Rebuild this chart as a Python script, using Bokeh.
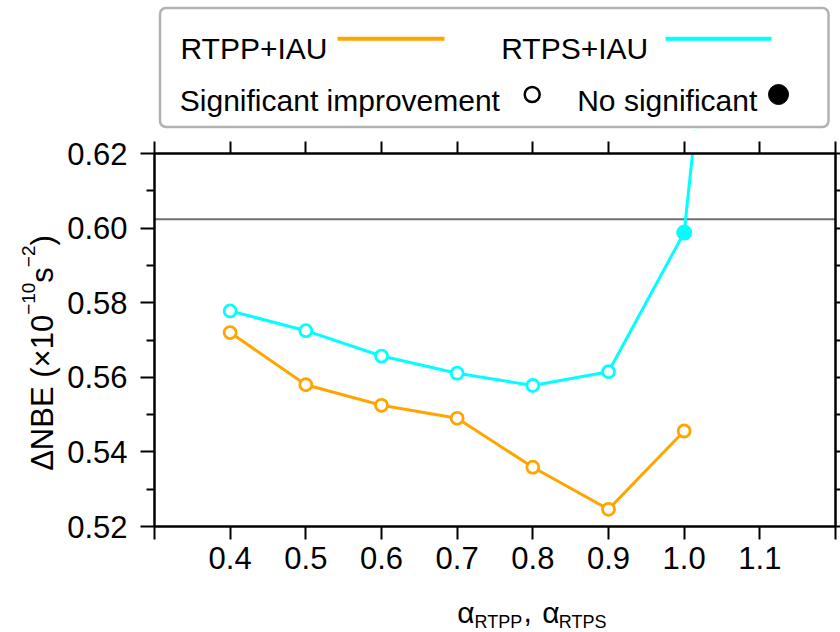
import math
from bokeh.plotting import figure
from bokeh.layouts import column
from bokeh.models import (Range1d, FixedTicker, LinearAxis, BoxAnnotation,
                          NumeralTickFormatter, CustomJSTickFormatter)
from bokeh.core.properties import value
from bokeh.embed import file_html
from bokeh.resources import INLINE

# ---------------- data ----------------
alpha_rtpp = [0.4, 0.5, 0.6, 0.7, 0.8, 0.9, 1.0]
rtpp_iau = [0.5720, 0.5580, 0.5525, 0.5490, 0.5359, 0.5246, 0.5456]
rtpp_significant = [True, True, True, True, True, True, True]

alpha_rtps = [0.4, 0.5, 0.6, 0.7, 0.8, 0.9, 1.0, 1.1]
rtps_iau = [0.5778, 0.5725, 0.5657, 0.5611, 0.5578, 0.5615, 0.5988, 0.7900]
rtps_significant = [True, True, True, True, True, True, False, False]

reference_value = 0.6024

x_lo, x_hi = 0.3, 1.2
y_lo, y_hi = 0.52, 0.62
x_ticks = [0.3, 0.4, 0.5, 0.6, 0.7, 0.8, 0.9, 1.0, 1.1, 1.2]
y_ticks = [0.52, 0.54, 0.56, 0.58, 0.60, 0.62]
y_minor_ticks = [0.53, 0.55, 0.57, 0.59, 0.61]

legend_series = ["RTPP+IAU", "RTPS+IAU"]
legend_markers = ["Significant improvement", "No significant"]
y_title_main = ["ΔNBE (×10", "s", ")"]
y_title_sup = ["−10", "−2"]
x_title_main = ["α", ",", "α"]
x_title_sub = ["RTPP", "RTPS"]

ORANGE = "#FFA500"
CYAN = "#00FFFF"
FONT = "Liberation Sans"

# ---------------- layout geometry (pixels) ----------------
W = 840
LEG_H = 130
MAIN_H = 632 - LEG_H
AX_LEFT, AX_RIGHT = 154, 835      # pixel columns of x = 0.3 and x = 1.2
AX_TOP, AX_BOTTOM = 153, 526      # pixel rows of y = 0.62 and y = 0.52 (page coords)
px_x = (AX_RIGHT - AX_LEFT) / (x_hi - x_lo)
px_y = (AX_BOTTOM - AX_TOP) / (y_hi - y_lo)
view_x = (x_lo - AX_LEFT / px_x, x_hi + (W - AX_RIGHT) / px_x)
view_y = (y_lo - (632 - AX_BOTTOM) / px_y, y_hi + (AX_TOP - LEG_H) / px_y)

def dx(px):  # page pixel column -> data x
    return x_lo + (px - AX_LEFT) / px_x

def dy(py):  # page pixel row -> data y
    return y_hi - (py - AX_TOP) / px_y

# ---------------- legend figure ----------------
lg = figure(width=W, height=LEG_H, x_range=Range1d(0, W), y_range=Range1d(LEG_H, 0),
            output_backend="svg", toolbar_location=None, min_border=0,
            min_border_left=0, min_border_right=0, min_border_top=0, min_border_bottom=0,
            x_axis_type=None, y_axis_type=None, outline_line_color=None)
lg.grid.visible = False
lg.add_layout(BoxAnnotation(left=159.5, right=828, top=7.5, bottom=126.5,
                            fill_color=None, line_color="black", line_width=2.5,
                            border_radius=6))
lg.text(x=[180, 500.7], y=[48.3, 48.3], text=legend_series,
        text_font=value(FONT), text_font_size=value("30px"), text_color="black",
        text_baseline="alphabetic", text_align="left")
lg.segment(x0=[337, 665], y0=[38.3, 38.3], x1=[444, 771], y1=[38.3, 38.3],
           line_color=[ORANGE, CYAN], line_width=4)
lg.text(x=[179.3, 576.7], y=[100, 100], text=legend_markers,
        text_font=value(FONT), text_font_size=value("30px"), text_color="black",
        text_baseline="alphabetic", text_align="left")
lg.scatter(x=[531.7], y=[94], size=15, fill_color="white", line_color="black", line_width=2.5)
lg.scatter(x=[778], y=[94], size=20, fill_color="black", line_color="black")

# ---------------- main figure ----------------
p = figure(width=W, height=MAIN_H, x_range=Range1d(*view_x), y_range=Range1d(*view_y),
           output_backend="svg", toolbar_location=None, min_border=0,
           min_border_left=0, min_border_right=0, min_border_top=0, min_border_bottom=0,
           outline_line_color=None)
p.grid.visible = False

xt = FixedTicker(ticks=x_ticks, minor_ticks=[])
yt = FixedTicker(ticks=y_ticks, minor_ticks=y_minor_ticks)
xfmt = CustomJSTickFormatter(code="return (tick < 0.35 || tick > 1.15) ? '' : tick.toFixed(1);")
blank = CustomJSTickFormatter(code="return '';")

def style_axis(ax):
    ax.axis_line_width = 2.5
    ax.axis_line_color = "black"
    ax.major_tick_line_width = 2
    ax.minor_tick_line_width = 2
    ax.major_tick_line_color = "black"
    ax.minor_tick_line_color = "black"
    ax.major_tick_in = 0
    ax.minor_tick_in = 0
    ax.major_label_text_font = FONT
    ax.major_label_text_font_size = "31px"
    ax.major_label_text_color = "black"

xa = p.xaxis[0]
xa.ticker = xt
xa.formatter = xfmt
xa.bounds = (x_lo, x_hi)
xa.fixed_location = y_lo
style_axis(xa)
xa.major_tick_out = 13
xa.minor_tick_out = 0
xa.major_label_standoff = 7

ya = p.yaxis[0]
ya.ticker = yt
ya.formatter = NumeralTickFormatter(format="0.00")
ya.bounds = (y_lo, y_hi)
ya.fixed_location = x_lo
style_axis(ya)
ya.major_tick_out = 14
ya.minor_tick_out = 8
ya.major_label_standoff = 13

top = LinearAxis(ticker=xt, formatter=blank, bounds=(x_lo, x_hi), fixed_location=y_hi)
style_axis(top)
top.major_tick_out = 12
top.minor_tick_out = 0
top.major_label_text_font_size = "1px"
top.major_label_standoff = 0
p.add_layout(top, "above")

right = LinearAxis(ticker=yt, formatter=blank, bounds=(y_lo, y_hi), fixed_location=x_hi)
style_axis(right)
right.major_tick_out = 5
right.minor_tick_out = 5
right.major_label_text_font_size = "1px"
right.major_label_standoff = 0
p.add_layout(right, "right")

# horizontal reference line across the axis extent
p.segment(x0=[x_lo], x1=[x_hi], y0=[reference_value], y1=[reference_value],
          line_color="#707070", line_width=2)

p.line(alpha_rtpp, rtpp_iau, line_color=ORANGE, line_width=3)
p.line(alpha_rtps, rtps_iau, line_color=CYAN, line_width=3)

# keep the lines inside the axes box (mask what lies above y = 0.62)
p.quad(left=[view_x[0]], right=[view_x[1]], bottom=[y_hi], top=[view_y[1] + 0.02],
       fill_color="white", line_color="white", line_width=2)

def split(xs, ys, flags, want):
    return ([x for x, f in zip(xs, flags) if f == want],
            [y for y, f in zip(ys, flags) if f == want])

ox, oy = split(alpha_rtpp, rtpp_iau, rtpp_significant, True)
p.scatter(ox, oy, size=12, fill_color="white", line_color=ORANGE, line_width=2.8)
ox, oy = split(alpha_rtps[:7], rtps_iau[:7], rtps_significant[:7], True)
p.scatter(ox, oy, size=12, fill_color="white", line_color=CYAN, line_width=2.8)
fx, fy = split(alpha_rtps[:7], rtps_iau[:7], rtps_significant[:7], False)
p.scatter(fx, fy, size=15, fill_color=CYAN, line_color=CYAN, line_width=1)

# y-axis title (rotated, with superscripts)
p.text(x=[dx(41.7)] * 3, y=[dy(470.35), dy(282.15), dy(244.95)], text=y_title_main,
       angle=math.pi / 2, text_font=value(FONT), text_font_size=value("31px"),
       text_color="black", text_baseline="alphabetic", text_align="left")
p.text(x=[dx(27.6)] * 2, y=[dy(314.35), dy(266.65)], text=y_title_sup,
       angle=math.pi / 2, text_font=value(FONT), text_font_size=value("19px"),
       text_color="black", text_baseline="alphabetic", text_align="left")

# x-axis title with subscripts
p.text(x=[dx(456.7), dx(523), dx(541.7)], y=[dy(611.5)] * 3, text=x_title_main,
       text_font=value(FONT), text_font_size=value("30px"), text_color="black",
       text_baseline="alphabetic", text_align="left")
p.text(x=[dx(474), dx(558.3)], y=[dy(621.5)] * 2, text=x_title_sub,
       text_font=value(FONT), text_font_size=value("18px"), text_color="black",
       text_baseline="alphabetic", text_align="left")

layout = column(lg, p, spacing=0)
open("out.html", "w").write(file_html(layout, INLINE))
